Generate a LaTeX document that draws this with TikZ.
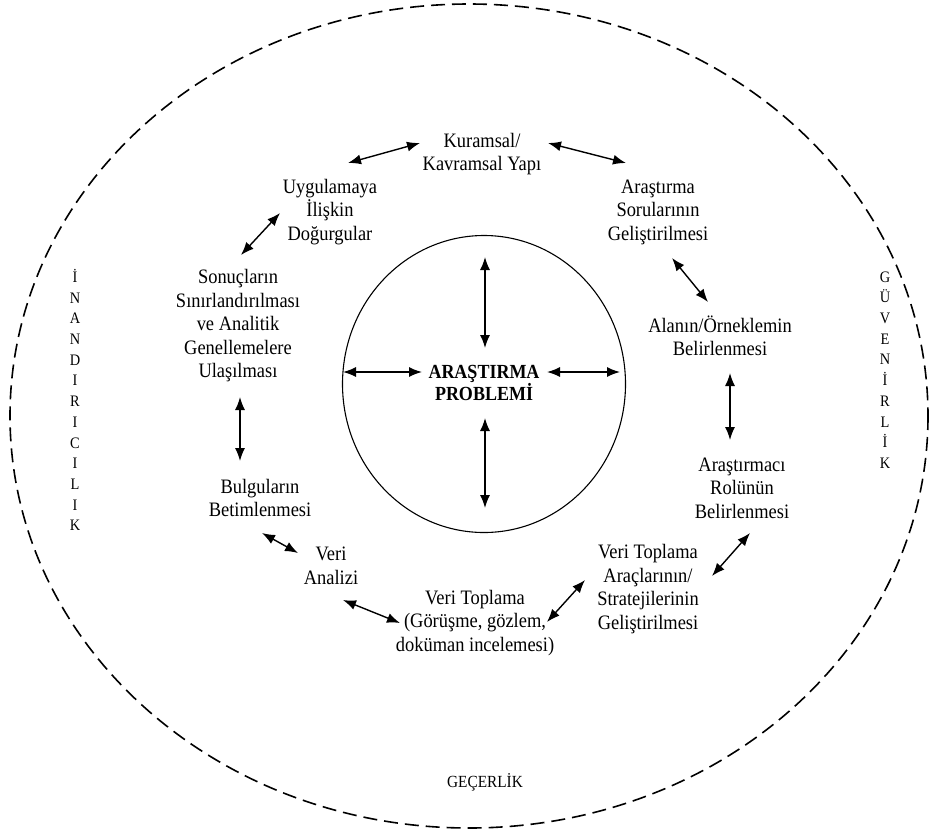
\documentclass[tikz,border=0pt]{standalone}
\usepackage{fontspec}
\setmainfont[FakeStretch=0.9]{Liberation Serif}
\usetikzlibrary{arrows.meta}

\tikzset{
  txt/.style={align=center, inner sep=0pt, font=\fontsize{20.5}{23.5}\selectfont},
  side/.style={align=center, inner sep=0pt, font=\fontsize{16}{20.7}\selectfont},
  twoway/.style={{Latex[length=13pt,width=10pt]}-{Latex[length=13pt,width=10pt]}, line width=1.4pt}
}

\begin{document}
\begin{tikzpicture}[x=1pt,y=-1pt]
\useasboundingbox (0,0) rectangle (933,836);

\draw[line width=1.6pt, dash pattern=on 14pt off 7pt]
     (469,416) ellipse [x radius=459, y radius=412];
\draw[line width=1.1pt] (484,384) ellipse [x radius=141.5, y radius=148.5];

\node[txt, font=\fontsize{20}{21.5}\selectfont\bfseries] (prb) at (484,383) {ARAŞTIRMA\\PROBLEMİ};

\node[txt] (kur) at (482,154) {Kuramsal/\\Kavramsal Yapı};
\node[txt] (uyg) at (330,212) {Uygulamaya\\İlişkin\\Doğurgular};
\node[txt] (ars) at (658,212) {Araştırma\\Sorularının\\Geliştirilmesi};
\node[txt] (son) at (238,326) {Sonuçların\\Sınırlandırılması\\ve Analitik\\Genellemelere\\Ulaşılması};
\node[txt] (aln) at (720,336) {Alanın/Örneklemin\\Belirlenmesi};
\node[txt] (bul) at (260,498) {Bulguların\\Betimlenmesi};
\node[txt] (arc) at (742,488) {Araştırmacı\\Rolünün\\Belirlenmesi};
\node[txt] (ana) at (331,566) {Veri\\Analizi};
\node[txt] (vtp) at (475,623) {Veri Toplama\\(Görüşme, gözlem,\\doküman incelemesi)};
\node[txt] (vta) at (648,589) {Veri Toplama\\Araçlarının/\\Stratejilerinin\\Geliştirilmesi};

\node[side] (inan) at (75,400) {İ\\N\\A\\N\\D\\I\\R\\I\\C\\I\\L\\I\\K};
\node[side] (guv) at (885,370) {G\\Ü\\V\\E\\N\\İ\\R\\L\\İ\\K};
\node[font=\fontsize{17}{18}\selectfont] (gec) at (485,782) {GEÇERLİK};

% arrow ends
\coordinate (k1) at (348,163);
\coordinate (k2) at (420,143);
\coordinate (k3) at (548,143);
\coordinate (k4) at (626,163);
\coordinate (u1) at (241,255);
\coordinate (u2) at (280,213);
\coordinate (s1) at (240,397);
\coordinate (s2) at (240,461);
\coordinate (b1) at (262,533);
\coordinate (b2) at (298,553);
\coordinate (v1) at (343,600);
\coordinate (v2) at (400,623);
\coordinate (v3) at (547,622);
\coordinate (v4) at (585,580);
\coordinate (t1) at (712,576);
\coordinate (t2) at (750,533);
\coordinate (r1) at (730,373);
\coordinate (r2) at (730,440);
\coordinate (q1) at (672,258);
\coordinate (q2) at (708,302);

\coordinate (pn1) at (485,257);
\coordinate (pn2) at (485,348);
\coordinate (ps1) at (485,418);
\coordinate (ps2) at (485,508);
\coordinate (pw1) at (343,372);
\coordinate (pw2) at (422,372);
\coordinate (pe1) at (547,372);
\coordinate (pe2) at (620,372);

\draw[twoway] (k1) -- (k2);
\draw[twoway] (k3) -- (k4);
\draw[twoway] (u1) -- (u2);
\draw[twoway] (s1) -- (s2);
\draw[twoway] (b1) -- (b2);
\draw[twoway] (v1) -- (v2);
\draw[twoway] (v3) -- (v4);
\draw[twoway] (t1) -- (t2);
\draw[twoway] (r1) -- (r2);
\draw[twoway] (q1) -- (q2);

\draw[twoway] (pn1) -- (pn2);
\draw[twoway] (ps1) -- (ps2);
\draw[twoway] (pw1) -- (pw2);
\draw[twoway] (pe1) -- (pe2);
\end{tikzpicture}
\end{document}
